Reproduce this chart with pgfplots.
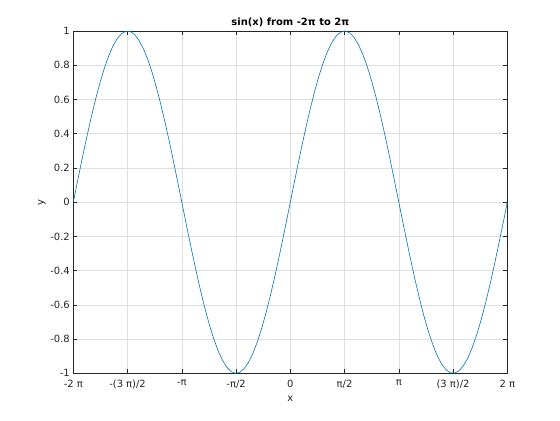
\documentclass[border=0pt]{standalone}
\usepackage{pgfplots}
\pgfplotsset{compat=1.18}
\usepackage{fontspec}
\setmainfont{DejaVu Sans}
\definecolor{mblue}{RGB}{0,114,189}
\definecolor{axc}{RGB}{38,38,38}
\definecolor{gridc}{RGB}{223,223,223}
\begin{document}
\begin{tikzpicture}[x=1bp,y=1bp]
\useasboundingbox (0,0) rectangle (560,420);
\begin{axis}[
  at={(73.3bp,46.7bp)}, anchor=south west,
  scale only axis, width=434bp, height=342.3bp,
  xmin=-6.283185, xmax=6.283185, ymin=-1, ymax=1,
  xtick={-6.283185,-4.712389,-3.141593,-1.570796,0,1.570796,3.141593,4.712389,6.283185},
  xticklabels={{-2 π},{-(3 π)/2},{-π},{-π/2},{0},{π/2},{π},{(3 π)/2},{2 π}},
  ytick={-1,-0.8,-0.6,-0.4,-0.2,0,0.2,0.4,0.6,0.8,1},
  yticklabels={-1,-0.8,-0.6,-0.4,-0.2,0,0.2,0.4,0.6,0.8,1},
  /pgf/number format/assume math mode=true,
  grid=major,
  major grid style={gridc, line width=0.5bp},
  axis line style={axc, line width=0.6bp},
  tick style={axc, line width=0.6bp},
  tick align=inside,
  major tick length=4bp,
  ticklabel style={font=\fontsize{10}{12}\selectfont, text=axc},
  xticklabel style={yshift=-3bp},
  xlabel={x}, ylabel={y},
  label style={font=\fontsize{10}{12}\selectfont, text=axc},
  xlabel style={at={(axis description cs:0.5,0)}, anchor=north, yshift=-19bp},
  ylabel style={at={(axis description cs:0,0.5)}, anchor=south, yshift=24bp},
  title={\textbf{sin(x) from -2π to 2π}},
  title style={font=\fontsize{10}{12}\selectfont, text=black, yshift=-5bp},
]
\addplot[mblue, line width=0.6bp, mark=none] coordinates {
(-6.2832,0) (-6.1563,0.126592) (-6.0293,0.251148) (-5.9024,0.371662)
(-5.7755,0.486197) (-5.6485,0.592908) (-5.5216,0.690079) (-5.3947,0.776147)
(-5.2677,0.849725) (-5.1408,0.909633) (-5.0139,0.954902) (-4.8869,0.984808)
(-4.7600,0.998867) (-4.6331,0.996855) (-4.5061,0.978802) (-4.3792,0.945002)
(-4.2523,0.895994) (-4.1253,0.832570) (-3.9984,0.755751) (-3.8715,0.666770)
(-3.7445,0.567060) (-3.6176,0.458226) (-3.4907,0.342020) (-3.3637,0.220310)
(-3.2368,0.095056) (-3.1099,-0.031728) (-2.9829,-0.158001) (-2.8560,-0.281732)
(-2.7291,-0.400931) (-2.6021,-0.513678) (-2.4752,-0.618158) (-2.3483,-0.712695)
(-2.2213,-0.795762) (-2.0944,-0.866025) (-1.9675,-0.922355) (-1.8405,-0.963842)
(-1.7136,-0.989821) (-1.5867,-0.999874) (-1.4597,-0.993838) (-1.3328,-0.971812)
(-1.2059,-0.934149) (-1.0789,-0.881454) (-0.9520,-0.814577) (-0.8251,-0.734592)
(-0.6981,-0.642788) (-0.5712,-0.540641) (-0.4443,-0.429795) (-0.3173,-0.312033)
(-0.1904,-0.189251) (-0.0635,-0.063423)
(0.0635,0.063423) (0.1904,0.189251) (0.3173,0.312033) (0.4443,0.429795)
(0.5712,0.540641) (0.6981,0.642788) (0.8251,0.734592) (0.9520,0.814577)
(1.0789,0.881454) (1.2059,0.934149) (1.3328,0.971812) (1.4597,0.993838)
(1.5867,0.999874) (1.7136,0.989821) (1.8405,0.963842) (1.9675,0.922355)
(2.0944,0.866025) (2.2213,0.795762) (2.3483,0.712695) (2.4752,0.618158)
(2.6021,0.513678) (2.7291,0.400931) (2.8560,0.281732) (2.9829,0.158001)
(3.1099,0.031728) (3.2368,-0.095056) (3.3637,-0.220310) (3.4907,-0.342020)
(3.6176,-0.458226) (3.7445,-0.567060) (3.8715,-0.666770) (3.9984,-0.755751)
(4.1253,-0.832570) (4.2523,-0.895994) (4.3792,-0.945002) (4.5061,-0.978802)
(4.6331,-0.996855) (4.7600,-0.998867) (4.8869,-0.984808) (5.0139,-0.954902)
(5.1408,-0.909633) (5.2677,-0.849725) (5.3947,-0.776147) (5.5216,-0.690079)
(5.6485,-0.592908) (5.7755,-0.486197) (5.9024,-0.371662) (6.0293,-0.251148)
(6.1563,-0.126592) (6.2832,0)
};
\end{axis}
\end{tikzpicture}
\end{document}
